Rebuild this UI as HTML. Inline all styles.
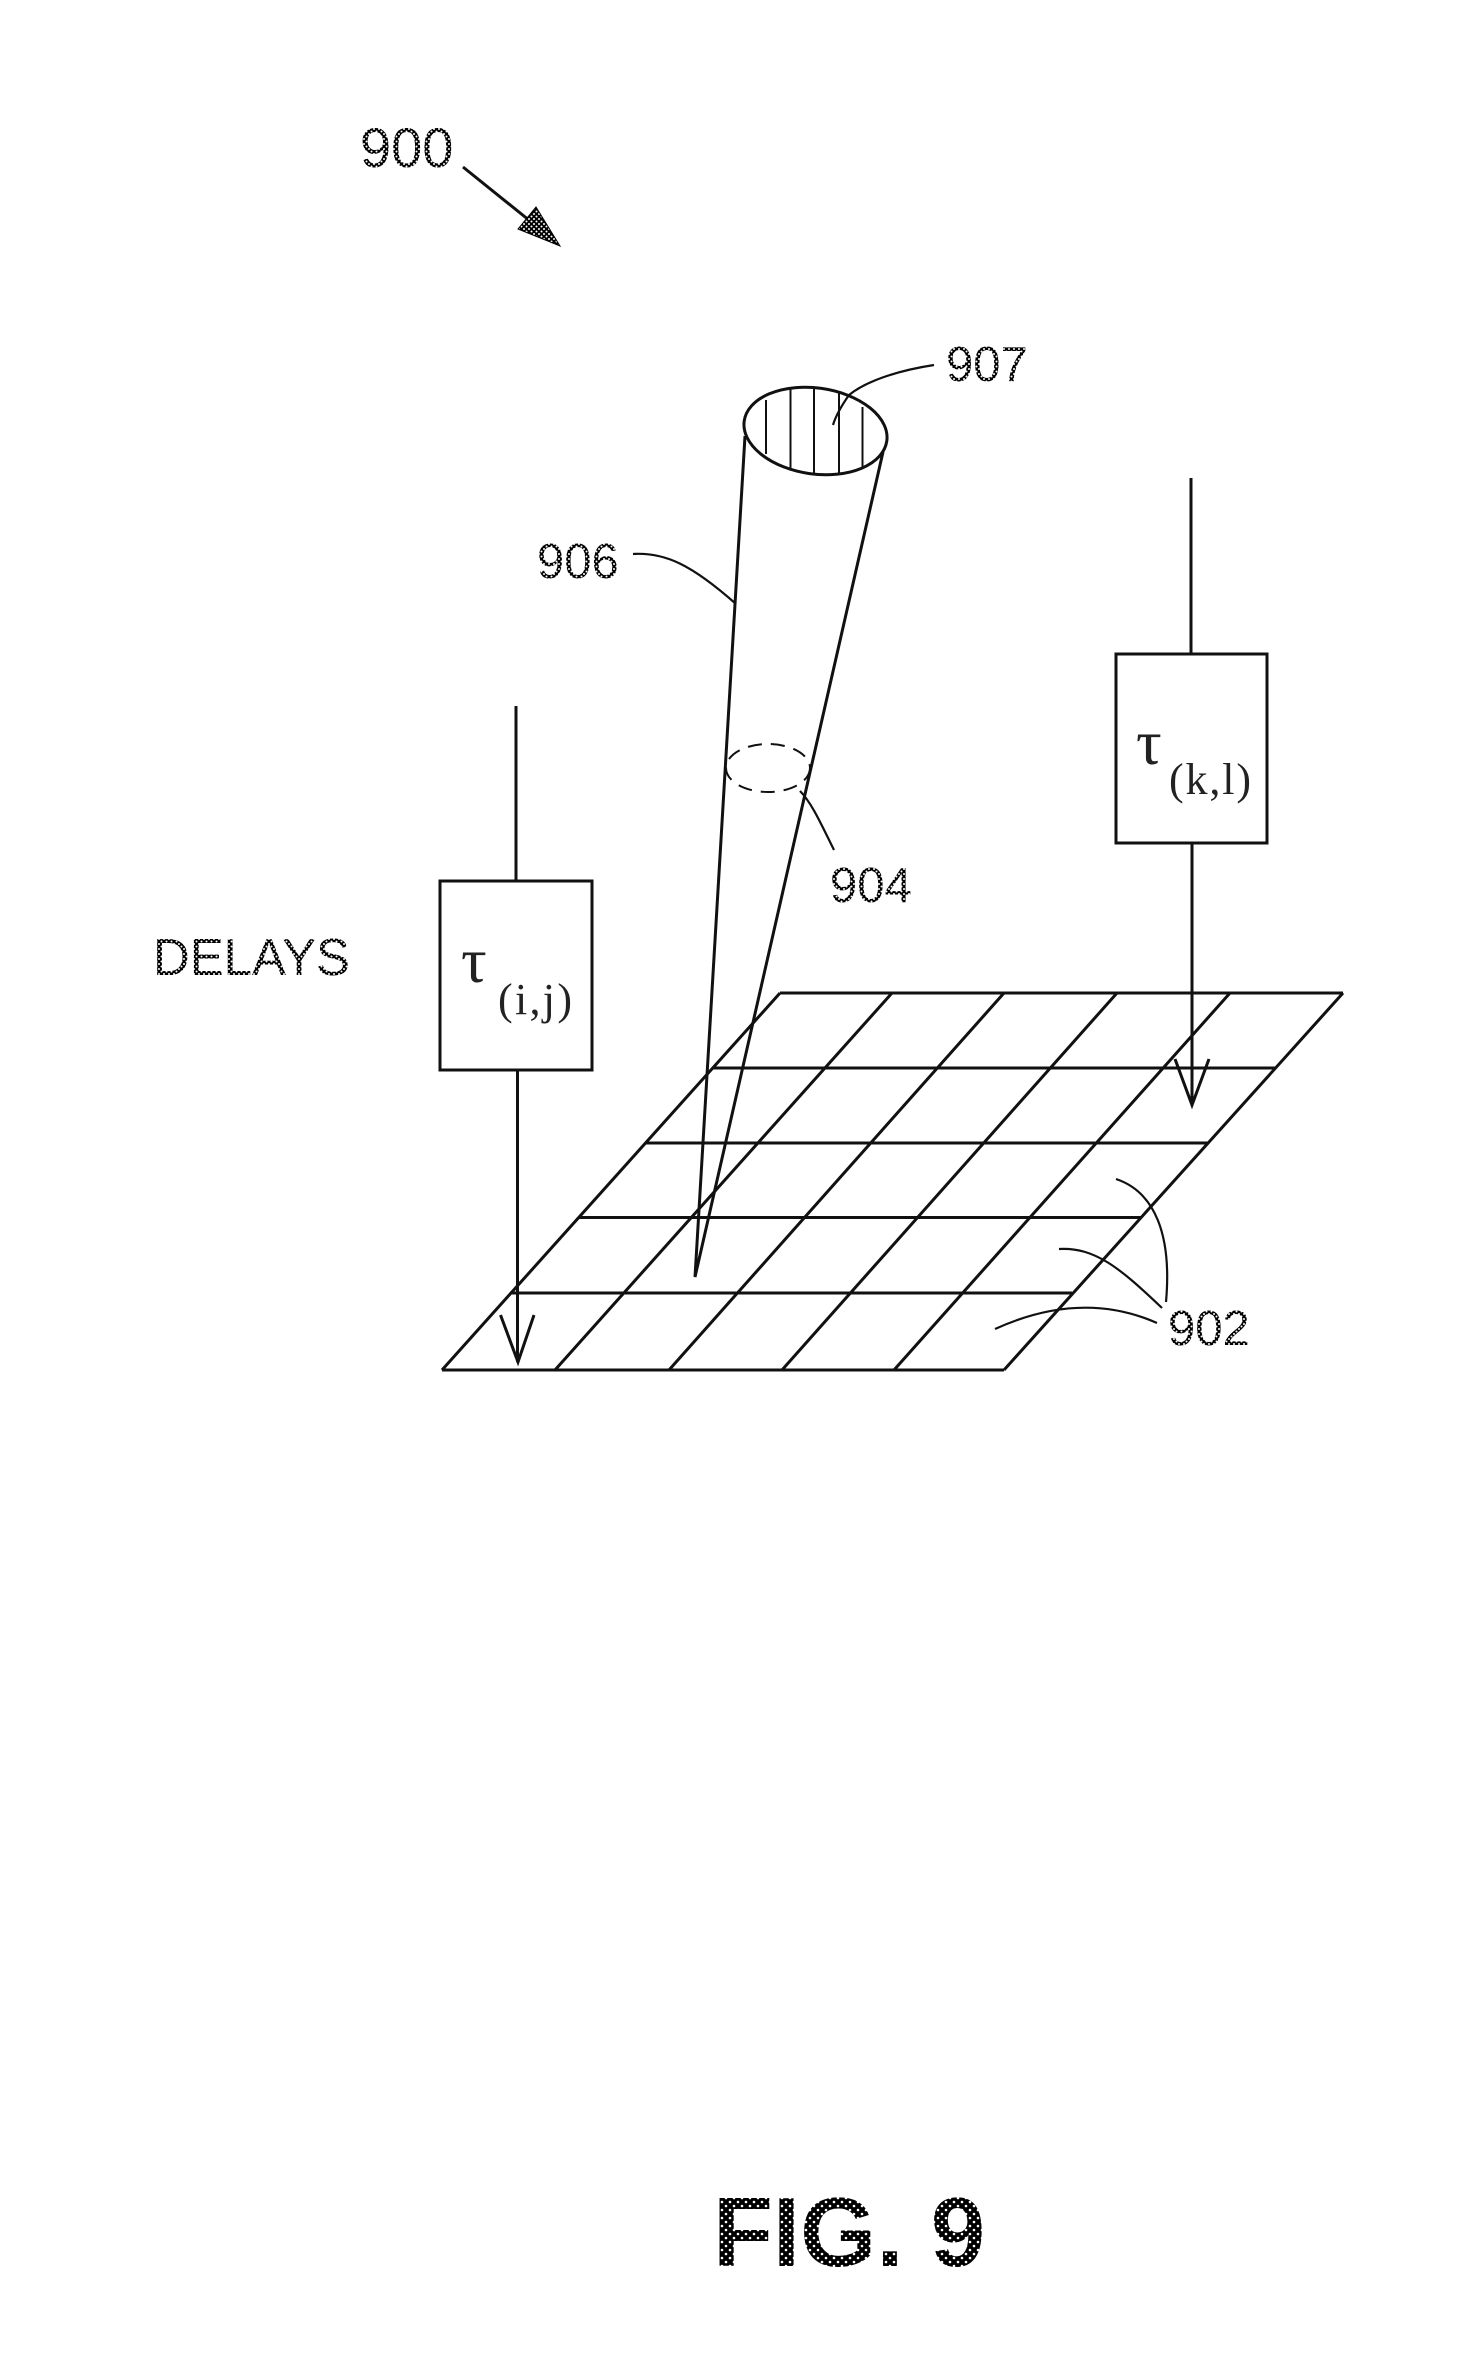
<!DOCTYPE html>
<html><head><meta charset="utf-8"><style>
html,body{margin:0;padding:0;background:#fff}
svg{display:block}
text{font-family:"Liberation Sans",sans-serif}
.s{font-family:"Liberation Serif",serif}
.l{fill:url(#t)}
</style></head><body>
<svg width="1477" height="2371" viewBox="0 0 1477 2371" xmlns="http://www.w3.org/2000/svg">
<defs>
<pattern id="h" width="8" height="8" patternUnits="userSpaceOnUse">
<rect width="8" height="8" fill="#000"/><circle cx="2" cy="2" r="1.3" fill="#fff"/><circle cx="6" cy="6" r="1.3" fill="#fff"/>
</pattern>
<pattern id="t" width="5" height="5" patternUnits="userSpaceOnUse">
<rect width="5" height="5" fill="#000"/><circle cx="1.5" cy="1.5" r="1" fill="#fff"/><circle cx="4" cy="4" r="1" fill="#fff"/>
</pattern>
</defs>
<rect width="1477" height="2371" fill="#fff"/>
<g fill="none" stroke="#111" stroke-width="3">
<!-- grid -->
<path d="M780 993H1343M713 1068H1276M646 1143H1209M578 1217.5H1141M510 1293H1072M442 1370H1004"/>
<path d="M442 1370L780 993M555 1370L892 993M669 1370L1004 993M782 1370L1117 993M894 1370L1230 993M1004 1370L1343 993"/>
<!-- boxes -->
<rect x="440" y="881" width="152" height="189"/>
<rect x="1116" y="654" width="151" height="189"/>
<path d="M516 706V881M517.5 1070V1362M500.5 1315L518 1362L534 1315"/>
<path d="M1191 478V654M1192 843V1105M1175 1059L1192 1105L1209 1059"/>
<!-- cone -->
<ellipse cx="815.5" cy="431" rx="72" ry="43" transform="rotate(8 815.5 431)"/>
<path d="M745 436L695 1277L883 452"/>
<path stroke-width="2" d="M766 400V454M790.5 389V468M814 389V473M839 391V473M862.5 407V468"/>
<ellipse cx="768" cy="768" rx="42" ry="24" stroke-width="2" stroke-dasharray="14 9"/>
<!-- leaders -->
<path stroke-width="2.2" d="M934 365C895 371 865 382 849 395C842 405 836 415 833 425"/>
<path stroke-width="2.2" d="M633 554C665 552 692 565 736 604"/>
<path stroke-width="2.2" d="M800 791C812 803 822 826 834 850"/>
<path stroke-width="2.2" d="M1116 1179C1155 1192 1172 1235 1166 1302"/>
<path stroke-width="2.2" d="M1059 1249C1095 1247 1120 1268 1162 1308"/>
<path stroke-width="2.2" d="M995 1329C1050 1304 1105 1300 1157 1323"/>
<!-- 900 arrow -->
<path stroke-width="3" d="M463 167L540 229"/>
</g>
<path d="M560 246L536 207L518 229Z" fill="url(#t)" stroke="#000" stroke-width="1"/>
<text x="360" y="167" font-size="56" class="l">900</text>
<text x="946" y="381" font-size="49" class="l">907</text>
<text x="537" y="578" font-size="49" class="l">906</text>
<text x="830" y="902" font-size="49" class="l">904</text>
<text x="1168" y="1345" font-size="49" class="l">902</text>
<text x="153" y="975" font-size="52" textLength="197" lengthAdjust="spacingAndGlyphs" class="l">DELAYS</text>
<g fill="#222">
<text class="s" x="461" y="982" font-size="64">τ</text>
<text class="s" x="498" y="1014" font-size="44" textLength="74" lengthAdjust="spacing">(i,j)</text>
<text class="s" x="1136" y="764" font-size="64">τ</text>
<text class="s" x="1169" y="794" font-size="44" textLength="82" lengthAdjust="spacing">(k,l)</text>
</g>
<text x="713" y="2266" font-size="98" font-weight="700" fill="url(#h)">FIG. 9</text>
</svg>
</body></html>
